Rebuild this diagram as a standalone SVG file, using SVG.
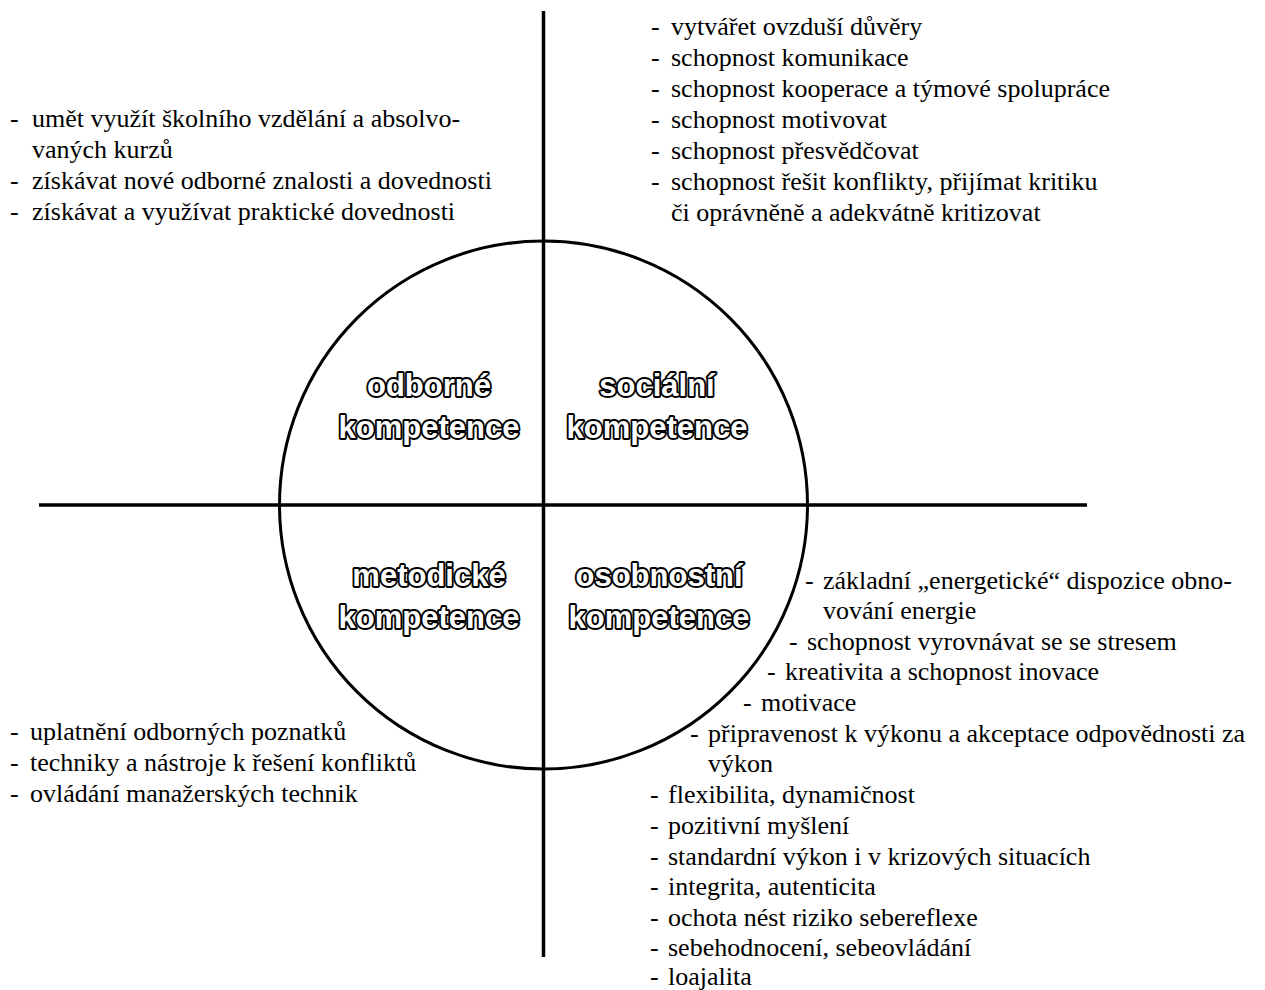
<svg xmlns="http://www.w3.org/2000/svg" width="1265" height="990" viewBox="0 0 1265 990">
<style>
.t text{font-family:"Liberation Serif","Times New Roman",serif;font-size:26px;fill:#000}
.lbl text{font-family:"Liberation Sans",Arial,sans-serif;font-weight:bold;font-size:31px;fill:#fff;stroke:#000;stroke-width:3.8;paint-order:stroke;stroke-linejoin:round;text-anchor:middle}
.ax{stroke:#000;stroke-width:3.5;fill:none}
</style>
<rect width="1265" height="990" fill="#fff"/>
<g id="connectors">
<line class="ax" x1="543.5" y1="11" x2="543.5" y2="957"/>
<line class="ax" x1="39" y1="505" x2="1087" y2="505"/>
</g>
<g id="circle">
<circle cx="543.5" cy="505" r="264" fill="none" stroke="#000" stroke-width="3"/>
</g>
<g id="odborne" class="lbl">
<text x="429" y="396">odborné</text>
<text x="429" y="438">kompetence</text>
</g>
<g id="socialni" class="lbl">
<text x="657" y="396">sociální</text>
<text x="657" y="438">kompetence</text>
</g>
<g id="metodicke" class="lbl">
<text x="429" y="586">metodické</text>
<text x="429" y="628">kompetence</text>
</g>
<g id="osobnostni" class="lbl">
<text x="659" y="586">osobnostní</text>
<text x="659" y="628">kompetence</text>
</g>
<g id="list-odborne" class="t">
<text x="10" y="127">-</text><text x="32" y="127">umět využít školního vzdělání a absolvo-</text>
<text x="32" y="158">vaných kurzů</text>
<text x="10" y="189">-</text><text x="32" y="189">získávat nové odborné znalosti a dovednosti</text>
<text x="10" y="220">-</text><text x="32" y="220">získávat a využívat praktické dovednosti</text>
</g>
<g id="list-socialni" class="t">
<text x="651" y="35">-</text><text x="671" y="35">vytvářet ovzduší důvěry</text>
<text x="651" y="66">-</text><text x="671" y="66">schopnost komunikace</text>
<text x="651" y="97">-</text><text x="671" y="97">schopnost kooperace a týmové spolupráce</text>
<text x="651" y="128">-</text><text x="671" y="128">schopnost motivovat</text>
<text x="651" y="159">-</text><text x="671" y="159">schopnost přesvědčovat</text>
<text x="651" y="190">-</text><text x="671" y="190">schopnost řešit konflikty, přijímat kritiku</text>
<text x="671" y="221">či oprávněně a adekvátně kritizovat</text>
</g>
<g id="list-metodicke" class="t">
<text x="10" y="740">-</text><text x="30" y="740">uplatnění odborných poznatků</text>
<text x="10" y="771">-</text><text x="30" y="771">techniky a nástroje k řešení konfliktů</text>
<text x="10" y="802">-</text><text x="30" y="802">ovládání manažerských technik</text>
</g>
<g id="list-osobnostni" class="t">
<text x="805" y="589">-</text><text x="823" y="589">základní „energetické“ dispozice obno-</text>
<text x="823" y="619">vování energie</text>
<text x="789" y="650">-</text><text x="807" y="650">schopnost vyrovnávat se se stresem</text>
<text x="767" y="680">-</text><text x="785" y="680">kreativita a schopnost inovace</text>
<text x="743" y="711">-</text><text x="761" y="711">motivace</text>
<text x="690" y="742">-</text><text x="708" y="742">připravenost k výkonu a akceptace odpovědnosti za</text>
<text x="708" y="772">výkon</text>
<text x="650" y="803">-</text><text x="668" y="803">flexibilita, dynamičnost</text>
<text x="650" y="834">-</text><text x="668" y="834">pozitivní myšlení</text>
<text x="650" y="865">-</text><text x="668" y="865">standardní výkon i v krizových situacích</text>
<text x="650" y="895">-</text><text x="668" y="895">integrita, autenticita</text>
<text x="650" y="926">-</text><text x="668" y="926">ochota nést riziko sebereflexe</text>
<text x="650" y="956">-</text><text x="668" y="956">sebehodnocení, sebeovládání</text>
<text x="650" y="985">-</text><text x="668" y="985">loajalita</text>
</g>
</svg>
